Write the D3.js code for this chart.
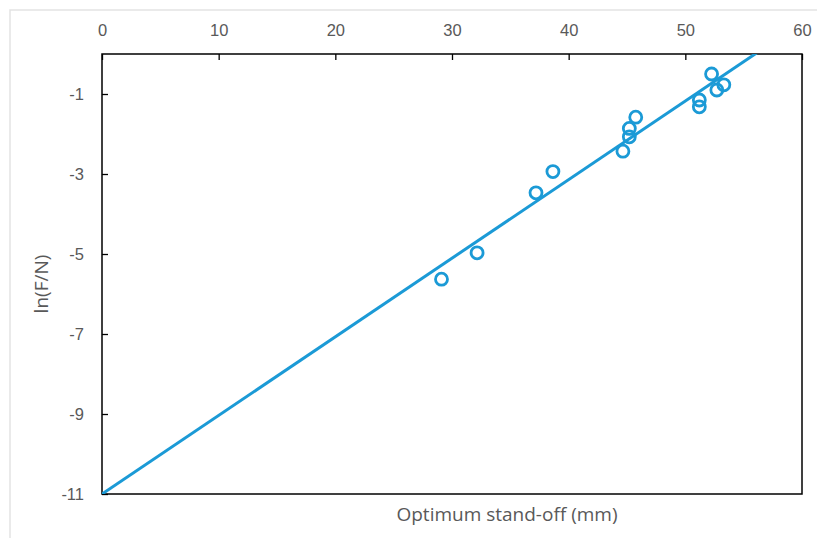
<!DOCTYPE html>
<html>
<head>
<meta charset="utf-8">
<script src="https://cdn.jsdelivr.net/npm/d3@7"></script>
<style>
  html, body { margin: 0; padding: 0; background: #fff; }
  svg { display: block; font-family: "Open Sans", "Noto Sans", sans-serif; }
</style>
</head>
<body>
<svg id="chart" width="817" height="538"></svg>
<script>
// measured stand-off (mm) and ln(F/N)
const standOff = [29.1, 32.15, 37.2, 38.65, 44.65, 45.2, 45.2, 45.75, 51.2, 51.2, 52.25, 52.7, 53.3];
const lnForce = [-5.63, -4.97, -3.47, -2.94, -2.43, -2.07, -1.86, -1.58, -1.15, -1.32, -0.5, -0.9, -0.77];
// fitted trend line endpoints
const fitX = [0, 60];
const fitY = [-11, 60 * 0.1965 - 11];

const xTicks = [0, 10, 20, 30, 40, 50, 60];
const yTicks = [-1, -3, -5, -7, -9, -11];

const BLUE = '#1b9ad6';
const TEXT = '#595959';
const margin = { left: 102, right: 15, top: 54, bottom: 44 };
const W = 817, H = 538;

const svg = d3.select('#chart');

// light frame around the figure
svg.append('path')
  .attr('d', `M10,${H} V10 H${W}`)
  .attr('fill', 'none')
  .attr('stroke', '#e3e3e3')
  .attr('stroke-width', 1.5);

const x = d3.scaleLinear().domain([0, 60]).range([margin.left, W - margin.right]);
const y = d3.scaleLinear().domain([-11, 0]).range([H - margin.bottom, margin.top]);

svg.append('defs').append('clipPath').attr('id', 'plot-clip')
  .append('rect')
  .attr('x', x(0)).attr('y', y(0))
  .attr('width', x(60) - x(0)).attr('height', y(-11) - y(0));

const plain = d => String(d);   // keep ascii hyphen like the original

const xAxis = svg.append('g')
  .attr('transform', `translate(0,${y(0)})`)
  .call(d3.axisTop(x).tickValues(xTicks).tickFormat(plain).tickSizeInner(-6).tickSizeOuter(0).tickPadding(18));
xAxis.select('.domain').remove();
xAxis.selectAll('line').attr('stroke', '#000').attr('stroke-width', 1.3);
xAxis.selectAll('text').attr('fill', TEXT).attr('font-size', '16.5px');

const yAxis = svg.append('g')
  .attr('transform', `translate(${x(0)},0)`)
  .call(d3.axisLeft(y).tickValues(yTicks).tickFormat(plain).tickSizeInner(-6).tickSizeOuter(0).tickPadding(18));
yAxis.select('.domain').remove();
yAxis.selectAll('line').attr('stroke', '#000').attr('stroke-width', 1.3);
yAxis.selectAll('text').attr('fill', TEXT).attr('font-size', '16.5px');

// plot box
svg.append('rect')
  .attr('x', x(0)).attr('y', y(0))
  .attr('width', x(60) - x(0)).attr('height', y(-11) - y(0))
  .attr('fill', 'none')
  .attr('stroke', '#000')
  .attr('stroke-width', 1.5);

const plot = svg.append('g').attr('clip-path', 'url(#plot-clip)');

plot.append('line')
  .attr('x1', x(fitX[0])).attr('y1', y(fitY[0]))
  .attr('x2', x(fitX[1])).attr('y2', y(fitY[1]))
  .attr('stroke', BLUE)
  .attr('stroke-width', 3);

svg.append('g').selectAll('circle')
  .data(standOff)
  .enter()
  .append('circle')
  .attr('cx', d => x(d))
  .attr('cy', (d, i) => y(lnForce[i]))
  .attr('r', 6)
  .attr('fill', 'none')
  .attr('stroke', BLUE)
  .attr('stroke-width', 2.8);

svg.append('text')
  .attr('x', 507)
  .attr('y', 521)
  .attr('text-anchor', 'middle')
  .attr('fill', TEXT)
  .attr('font-size', '19px')
  .text('Optimum stand-off (mm)');

svg.append('text')
  .attr('transform', `translate(48,${(y(0) + y(-11)) / 2 + 10}) rotate(-90)`)
  .attr('text-anchor', 'middle')
  .attr('fill', TEXT)
  .attr('font-size', '19px')
  .text('ln(F/N)');
</script>
</body>
</html>
